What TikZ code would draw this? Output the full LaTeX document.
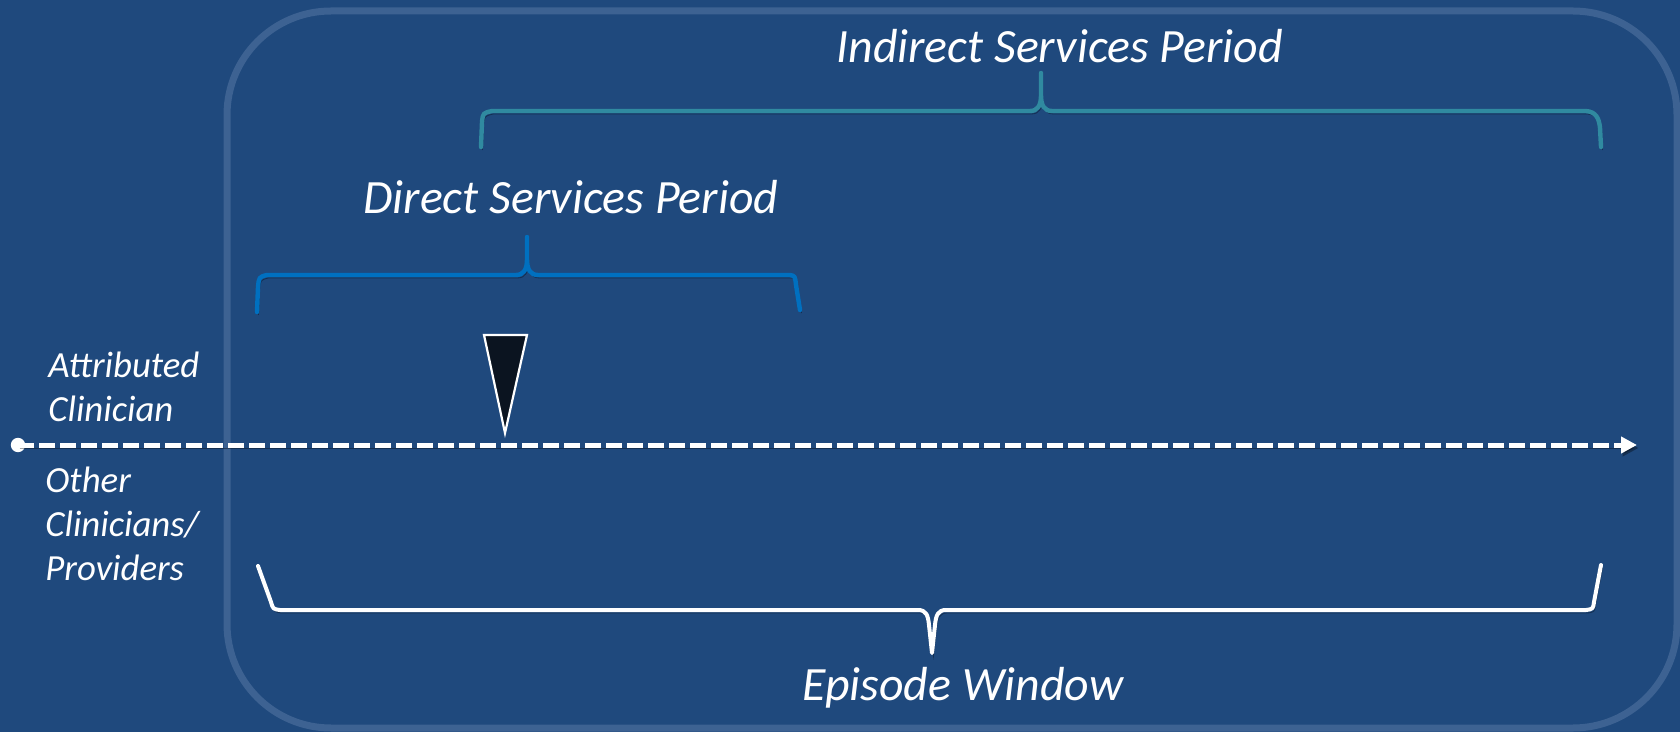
\documentclass[tikz,border=0pt]{standalone}
\usepackage{fontspec}
\setmainfont{Carlito}
\usetikzlibrary{arrows.meta}
\definecolor{bgblue}{HTML}{1F497D}
\definecolor{frameblue}{HTML}{3D6292}
\definecolor{dirblue}{HTML}{0070C0}
\definecolor{indteal}{HTML}{308AA0}
\definecolor{markfill}{HTML}{0B1420}
\tikzset{
  shadowed/.style={preaction={draw=black,opacity=0.35,transform canvas={shift={(1.5,3)}}}},
  bracebase/.style={line width=2.2pt,line cap=round,line join=round,shadowed},
  dirbrace/.style={bracebase,draw=dirblue},
  indbrace/.style={bracebase,draw=indteal},
  epibrace/.style={bracebase,draw=white,line width=2pt},
  bigtitle/.style={text=white,font=\fontsize{23.9pt}{28pt}\selectfont\itshape,inner sep=0pt},
  sidelabel/.style={text=white,font=\fontsize{18.4pt}{22pt}\selectfont\itshape,inner sep=0pt,align=left},
  timeline/.style={draw=white,line width=2.5pt,dash pattern=on 8pt off 2.5pt,-{Triangle[length=8pt,width=8pt]},shadowed},
}
\begin{document}
\begin{tikzpicture}[x=0.5pt,y=-0.5pt]
\useasboundingbox (0,0) rectangle (1680,732);
\fill[bgblue] (0,0) rectangle (1680,732);
% frame
\draw[frameblue,line width=3.5pt,rounded corners=52pt] (227,11) rectangle (1677,728);

% braces
\draw[indbrace] (481,147) -- (482,122) .. controls (483,113) .. (492,111) -- (1030,111)
  .. controls (1038,111) and (1041,105) .. (1041,95) -- (1041,73) -- (1041,95)
  .. controls (1041,105) and (1044,111) .. (1052,111) -- (1586,111)
  .. controls (1596,112) and (1599,118) .. (1600,128) -- (1601,147);
\draw[dirbrace] (257,312) -- (258,287) .. controls (259,277) .. (267,275) -- (516,275)
  .. controls (524,275) and (527,269) .. (527,259) -- (527,237) -- (527,259)
  .. controls (527,269) and (530,275) .. (538,275) -- (790,275)
  .. controls (795,276) .. (796,285) -- (800,310);
\draw[epibrace] (258,566) -- (271,602) .. controls (273,609) .. (280,610) -- (918,610)
  .. controls (926,610) and (928,615) .. (929,625) -- (932,653) -- (935,625)
  .. controls (936,615) and (938,610) .. (946,610) -- (1586,610)
  .. controls (1593,609) .. (1594,602) -- (1601,565);

% timeline
\coordinate (tstart) at (18,445);
\coordinate (tend) at (1637,445);
\fill[white] (tstart) circle (3.6pt);
\draw[timeline] (tstart) -- (tend);

% marker
\coordinate (m1) at (484,335);
\coordinate (m2) at (527,335);
\coordinate (m3) at (505,433);
\draw[white,fill=markfill,line width=1.1pt,line join=miter] (m1) -- (m2) -- (m3) -- cycle;

% texts
\node[bigtitle,anchor=base west] (indirect) at (836,63) {Indirect Services Period};
\node[bigtitle,anchor=base west] (direct) at (363,214) {Direct Services Period};
\node[bigtitle,anchor=base west] (episode) at (802,700) {Episode Window};
\node[sidelabel,anchor=base west] (attr) at (48,422) {Attributed\\Clinician};
\node[sidelabel,anchor=base west] (other) at (45,580) {Other\\Clinicians/\\Providers};
\end{tikzpicture}
\end{document}
